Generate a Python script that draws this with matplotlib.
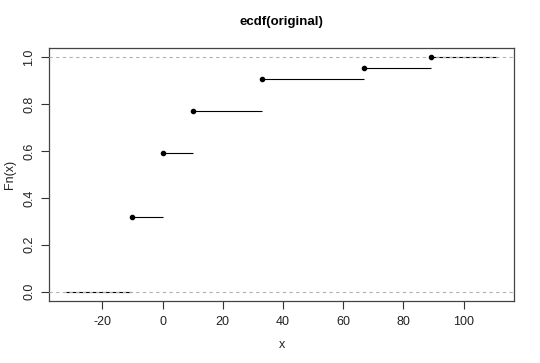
import numpy as np
import matplotlib
matplotlib.use("Agg")
import matplotlib.pyplot as plt

knots = [-10, 0, 10, 33, 67, 89]
fn_values = [7/22, 13/22, 17/22, 20/22, 21/22, 22/22]
xticks = [-20, 0, 20, 40, 60, 80, 100]
yticks = [0.0, 0.2, 0.4, 0.6, 0.8, 1.0]

plt.rcParams['font.family'] = ['Liberation Sans', 'DejaVu Sans']

fig = plt.figure(figsize=(5.4, 3.63), dpi=100)
ax = fig.add_axes([49/540, 1-301/363, (514-49)/540, (301-48)/363])

# plot range as in R's plot.stepfun
diffs = np.diff(knots)
dr = max(0.08 * (knots[-1] - knots[0]), np.median(diffs))
x0, x1 = knots[0] - dr, knots[-1] + dr
xs_left = [x0] + knots
xs_right = knots + [x1]
ys = [0.0] + fn_values
for a, b, y in zip(xs_left, xs_right, ys):
    ax.plot([a, b], [y, y], color='black', lw=0.8, solid_capstyle='butt', zorder=2)
for h in [0, 1]:
    ax.axhline(h, color='#b3b3b3', lw=0.8, ls=(0, (3, 3)), zorder=3)
ax.plot(knots, fn_values, 'o', color='black', ms=3.0, zorder=4)

span = x1 - x0
ax.set_xlim(x0 - 0.04 * span, x1 + 0.04 * span)
ax.set_ylim(-0.04, 1.04)
ax.set_xticks(xticks)
ax.set_xticklabels([str(t) for t in xticks])
ax.set_yticks(yticks)
ax.set_yticklabels([f"{t:.1f}" for t in yticks], rotation=90, va='center')
ax.tick_params(direction='out', length=6, width=0.8, colors='#333333', labelsize=9, labelcolor='#222222')
ax.tick_params(axis='y', pad=4)
ax.tick_params(axis='x', pad=5)
for s in ax.spines.values():
    s.set_color('#444444')
    s.set_linewidth(0.9)

fig.text(281.5/540, 1 - 345/363, 'x', ha='center', va='center', fontsize=9, color='#222222')
fig.text(10/540, 1 - 174.5/363, 'Fn(x)', ha='center', va='center', rotation=90, fontsize=9, color='#222222')
fig.text(281.5/540, 1 - 22/363, 'ecdf(original)', ha='center', va='center', fontsize=9.5, fontweight='bold')

fig.savefig('out.png', dpi=100)
